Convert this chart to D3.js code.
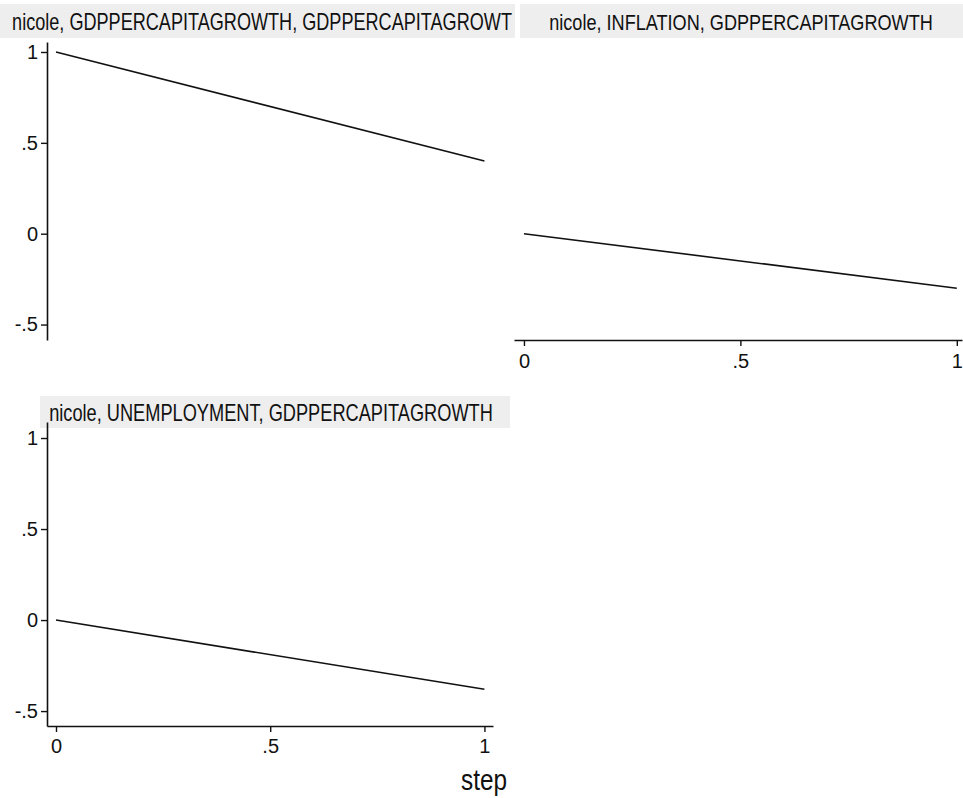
<!DOCTYPE html>
<html>
<head>
<meta charset="utf-8">
<script src="https://cdn.jsdelivr.net/npm/d3@7"></script>
<style>
  body { margin: 0; background: #fff; }
  svg text { font-family: "Liberation Sans", Arial, sans-serif; fill: #111; }
</style>
</head>
<body>
<div id="container"></div>
<script>
/* DATA */
const steps = [0, 1]
const gdpResp = [1, 0.4]            // GDPPERCAPITAGROWTH -> GDPPERCAPITAGROWTH
const inflationResp = [0, -0.3]     // INFLATION -> GDPPERCAPITAGROWTH
const unemploymentResp = [0, -0.38] // UNEMPLOYMENT -> GDPPERCAPITAGROWTH
const panelTitles = [
  "nicole, GDPPERCAPITAGROWTH, GDPPERCAPITAGROWT",
  "nicole, INFLATION, GDPPERCAPITAGROWTH",
  "nicole, UNEMPLOYMENT, GDPPERCAPITAGROWTH"
]
const yTicks = [-0.5, 0, 0.5, 1]
const xTicks = [0, 0.5, 1]
const xTitle = "step"

/* CONSTANTS */
const width = 963, height = 798

const svg = d3.select("#container")
  .append("svg")
  .attr("width", width)
  .attr("height", height)
  .style("background-color", "white")

// stata style number labels: .5, -.5
const fmt = d => d === 0 ? "0" : String(d).replace("0.", ".")

// squeeze a text horizontally (stata's narrow font) to a given width
function squeeze(text, cx, y, len) {
  const w = text.node().getComputedTextLength()
  text.attr("x", 0).attr("y", 0)
    .attr("transform", `translate(${cx},${y}) scale(${Math.min(1, len / w)},1)`)
}

/* SCALES */
const xLeft = d3.scaleLinear().domain([-0.021, 1.02]).range([47, 493])
const xRight = d3.scaleLinear().domain([-0.023, 1.012]).range([514, 962])
const yTop = d3.scaleLinear().domain([-0.585, 1.055]).range([340, 42])
const yBottom = d3.scaleLinear().domain([-0.582, 1.088]).range([726, 422])

/* title bands */
const bands = [
  {x: 0, y: 4, w: 515, h: 34, cx: 262, ty: 30, len: 500},
  {x: 520, y: 4, w: 443, h: 34, cx: 741, ty: 30, len: 384},
  {x: 40, y: 396, w: 470, h: 32, cx: 271, ty: 421, len: 444}
]
bands.forEach((b, i) => {
  svg.append("rect")
    .attr("x", b.x).attr("y", b.y)
    .attr("width", b.w).attr("height", b.h)
    .attr("fill", "#eeeeee")
  const t = svg.append("text")
    .attr("text-anchor", "middle")
    .style("font-size", "23px")
    .text(panelTitles[i])
  squeeze(t, b.cx, b.ty, b.len)
})

/* AXES */
function styleAxis(g) {
  g.attr("font-size", null)
  g.select(".domain").attr("stroke", "#111").attr("stroke-width", 1.6)
  g.selectAll(".tick line").attr("stroke", "#111").attr("stroke-width", 1.4)
  g.selectAll(".tick text")
    .style("font-size", "20px")
    .style("font-family", "'Liberation Sans', Arial, sans-serif")
    .attr("fill", "#111")
}

// left y axes (panel 1 and 3)
svg.append("g")
  .attr("transform", `translate(${xLeft.range()[0]},0)`)
  .call(d3.axisLeft(yTop).tickValues(yTicks).tickFormat(fmt).tickSize(6).tickSizeOuter(0).tickPadding(3))
  .call(styleAxis)

svg.append("g")
  .attr("transform", `translate(${xLeft.range()[0]},0)`)
  .call(d3.axisLeft(yBottom).tickValues(yTicks).tickFormat(fmt).tickSize(6).tickSizeOuter(0).tickPadding(3))
  .call(styleAxis)

// x axes (panel 2 and 3)
svg.append("g")
  .attr("transform", `translate(0,${yTop.range()[0]})`)
  .call(d3.axisBottom(xRight).tickValues(xTicks).tickFormat(fmt).tickSize(6).tickSizeOuter(0).tickPadding(8))
  .call(styleAxis)

svg.append("g")
  .attr("transform", `translate(0,${yBottom.range()[0]})`)
  .call(d3.axisBottom(xLeft).tickValues(xTicks).tickFormat(fmt).tickSize(6).tickSizeOuter(0).tickPadding(7))
  .call(styleAxis)

/* LINES */
const panels = [
  {vals: gdpResp, x: xLeft, y: yTop},
  {vals: inflationResp, x: xRight, y: yTop},
  {vals: unemploymentResp, x: xLeft, y: yBottom}
]
panels.forEach(p => {
  const line = d3.line()
    .x((d, i) => p.x(steps[i]))
    .y(d => p.y(d))
  svg.append("path")
    .datum(p.vals)
    .attr("d", line)
    .attr("fill", "none")
    .attr("stroke", "#111")
    .attr("stroke-width", 1.6)
})

/* x title */
const st = svg.append("text")
  .attr("text-anchor", "middle")
  .style("font-size", "30px")
  .text(xTitle)
squeeze(st, 484, 790, 46)
</script>
</body>
</html>
